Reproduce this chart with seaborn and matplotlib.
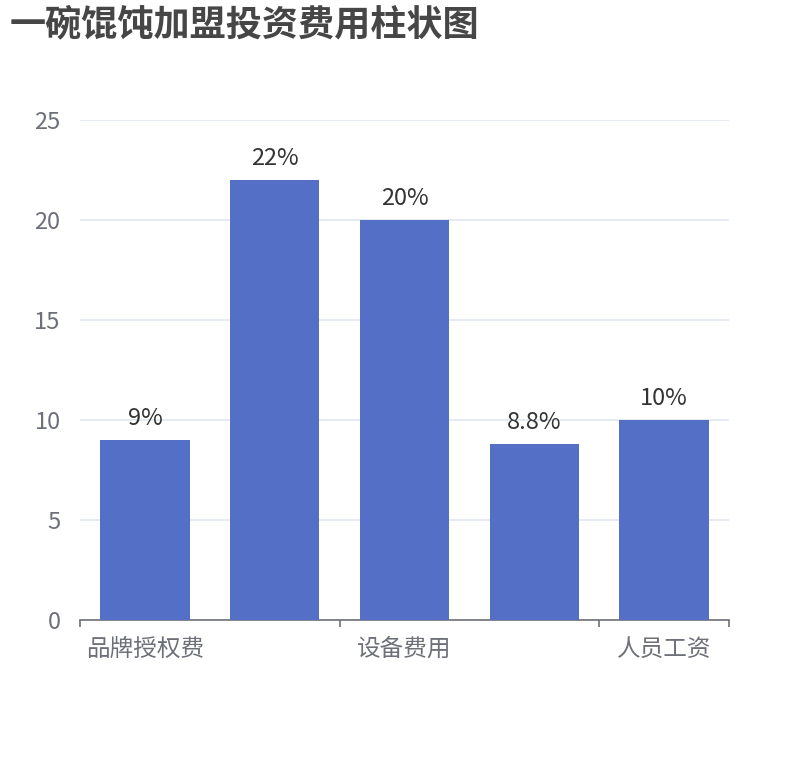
import matplotlib
matplotlib.use("Agg")
import matplotlib.pyplot as plt
import seaborn as sns
import pandas as pd

# data
categories = ["品牌授权费", "店铺租金", "设备费用", "装修费用", "人员工资"]
values = [9, 22, 20, 8.8, 10]
value_labels = ["9%", "22%", "20%", "8.8%", "10%"]
shown_labels = ["品牌授权费", "", "设备费用", "", "人员工资"]
y_ticks = [0, 5, 10, 15, 20, 25]

sns.set_theme(style="white")
plt.rcParams['font.family'] = ['Noto Sans CJK SC', 'DejaVu Sans']

df = pd.DataFrame({"item": categories, "cost": values})

fig = plt.figure(figsize=(8.1, 7.6), dpi=100)
ax = fig.add_axes([80 / 810, 140 / 760, 649 / 810, 500 / 760])

sns.barplot(data=df, x="item", y="cost", color="#5470c6", saturation=1,
            width=0.69, linewidth=0, edgecolor="none", ax=ax, zorder=3)

ax.set_xlim(-0.5, len(categories) - 0.5)
ax.set_ylim(0, 25)
ax.set_yticks(y_ticks)
ax.yaxis.grid(True, color="#E0E6F1", linewidth=1.2, zorder=0)
ax.set_axisbelow(True)

for s in ["top", "right", "left"]:
    ax.spines[s].set_visible(False)
ax.spines["bottom"].set_color("#6E7079")
ax.spines["bottom"].set_linewidth(1.2)

ax.set_xticks(range(len(categories)))
ax.set_xticklabels(shown_labels)
ax.tick_params(axis="x", which="major", length=0, pad=13, labelsize=17, labelcolor="#6E7079")
ax.set_xticks([-0.5, 1.5, 3.5, 4.5], minor=True)
ax.tick_params(axis="x", which="minor", bottom=True, direction="out", length=5,
               width=1.2, color="#6E7079")
ax.tick_params(axis="y", length=0, pad=14, labelsize=17, labelcolor="#6E7079")
ax.set_xlabel("")
ax.set_ylabel("")

for i, (v, lab) in enumerate(zip(values, value_labels)):
    ax.annotate(lab, (i, v), xytext=(0, 7), textcoords="offset points",
                ha="center", va="bottom", fontsize=17, color="#333333")

fig.text(10 / 810, 1 - 25 / 760, "一碗馄饨加盟投资费用柱状图", fontsize=26,
         fontweight="bold", color="#464646", ha="left", va="center")

fig.savefig("out.png", dpi=100)
